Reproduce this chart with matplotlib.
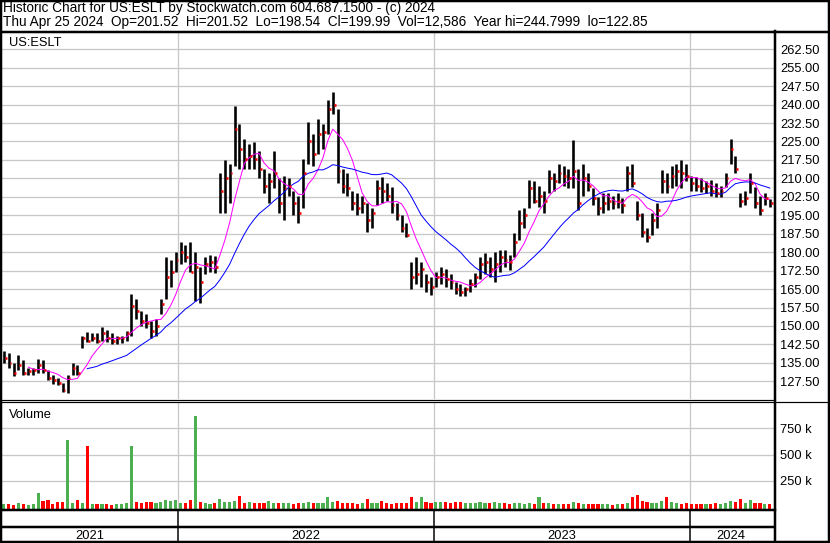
import numpy as np
import pandas as pd
import matplotlib
matplotlib.use("Agg")
import matplotlib.pyplot as plt
from matplotlib.lines import Line2D
from matplotlib.patches import Rectangle

plt.rcParams["font.family"] = ["Liberation Sans", "DejaVu Sans"]

# weekly bars, week of Apr 26 2021 .. week of Apr 22 2024
highs = [140, 139, 135, 138, 136, 133, 133, 136.5, 136, 132,
         130, 129, 127, 130, 135, 134, 146, 147.5, 147, 147,
         149.5, 148.5, 147, 146, 146, 148, 163, 161, 156, 155,
         152, 153, 161, 178, 177, 180, 184, 183, 184, 180,
         174, 178, 179, 178.6, 212, 217.5, 216, 239.4, 232, 226,
         224, 224.7, 221, 214, 212, 221, 210, 211, 210, 205,
         203, 218, 233, 228, 234, 232, 242, 245, 238, 214,
         212, 205, 204, 203, 200, 198, 209.4, 210.6, 208, 206.5,
         200, 195, 192, 176, 178, 176, 171, 170, 172, 174,
         173, 171, 168, 167, 166, 169, 171.5, 178, 179.6, 178,
         180, 181, 181, 179, 187.7, 197, 198, 209.3, 209, 207,
         205, 213.4, 212, 216, 215, 214, 225.6, 214, 216, 212,
         206, 202.5, 204, 204, 203, 204, 202, 215, 216, 201,
         196, 190, 196, 200, 213.3, 212, 215, 216, 217.5, 216,
         211, 210.6, 210, 209, 209.3, 208, 207, 212, 225.9, 219,
         204, 205, 212, 206.5, 203, 204, 201.52]
lows = [135, 133, 129.5, 132, 130, 130, 130, 131, 131, 128,
        126.5, 126, 123, 122.85, 130, 130, 141, 143.5, 144, 143,
        144, 143.5, 142.5, 142.5, 143, 144, 146, 153, 150, 149,
        145, 146, 155, 161, 166, 172, 175, 176, 172, 160,
        159.5, 171, 172, 171.5, 196, 196, 200, 215, 214, 214,
        214, 214, 210, 204, 200, 206, 196, 193, 203, 195,
        192, 198, 216, 215, 220, 222, 228, 236, 208, 204,
        203, 197, 195, 196, 188, 190, 199, 200, 201, 196,
        193, 188, 186, 165, 167, 166, 164, 162.6, 166, 167,
        166, 165, 163, 162, 162, 164, 166, 169, 171, 170,
        168, 172, 174, 172.8, 178, 185, 190, 198, 200, 198.4,
        196, 204, 205, 208, 207, 206, 206, 197, 203, 205,
        199, 195, 196, 197, 197.5, 198, 196, 205, 206.5, 193,
        186, 184.3, 187, 190, 204, 204, 206, 207, 206, 209,
        205, 205, 204.6, 204, 203, 202.5, 202.5, 206.5, 216, 212,
        198.5, 199, 204, 198, 195, 199, 198.54]
closes = [137, 135, 131, 134, 131, 131.5, 132, 134, 132, 129,
          128, 127, 124, 129, 133, 131, 145, 144, 145, 144,
          147, 145, 144, 145, 145, 147, 158, 156, 152, 151,
          148, 150, 159, 170, 172, 177, 180, 178, 172, 174,
          168, 175, 176, 174, 205, 210, 212, 230, 222, 218,
          219, 218, 214, 207, 209, 212, 200, 206, 207, 200,
          196, 212, 225, 220, 228, 229, 238, 240, 213, 207,
          206, 200, 198, 200, 193, 196, 206, 205, 203, 199,
          195, 190, 187, 170, 171, 173, 168, 166, 170, 171,
          169, 168, 165, 164, 165, 167, 170, 175, 176, 173,
          175, 178, 177, 176, 184, 192, 195, 206, 201, 203,
          201, 210, 209, 212, 211, 210, 213, 200, 210, 207,
          202, 198, 200, 201, 200, 201, 199, 212, 208, 195,
          188, 186, 193, 197, 209, 207, 211, 213, 212, 211,
          208, 207, 206, 207, 205, 204, 205, 210, 222, 214,
          201, 202, 208, 200, 197, 202, 199.99]
# volume in thousands of shares
volume_k = [25, 30, 20, 35, 25, 20, 30, 134, 60, 70,
            30, 50, 45, 639, 40, 65, 35, 582, 30, 25,
            30, 25, 20, 25, 30, 35, 582, 50, 35, 45,
            50, 40, 45, 65, 55, 65, 35, 40, 70, 868,
            45, 35, 30, 40, 75, 50, 45, 60, 100, 40,
            45, 35, 40, 40, 55, 40, 35, 40, 35, 30,
            35, 40, 45, 35, 40, 35, 90, 45, 60, 40,
            40, 35, 30, 35, 80, 35, 40, 60, 35, 30,
            35, 40, 35, 90, 50, 90, 45, 40, 45, 50,
            45, 40, 45, 50, 35, 40, 35, 50, 40, 35,
            45, 40, 35, 30, 35, 40, 30, 35, 30, 90,
            40, 35, 30, 25, 30, 25, 45, 40, 30, 25,
            25, 30, 25, 30, 20, 25, 30, 35, 90, 110,
            60, 45, 40, 35, 60, 90, 45, 35, 30, 35,
            30, 25, 30, 25, 30, 35, 30, 35, 60, 45,
            80, 40, 70, 40, 35, 30, 25]

assert len(highs) == len(lows) == len(closes) == len(volume_k)
for h, l, c in zip(highs, lows, closes):
    assert l <= c <= h

weeks = pd.date_range("2021-04-28", periods=len(closes), freq="7D")
close_s = pd.Series(closes, index=weeks)
ma_short = close_s.rolling(6).mean()
ma_long = close_s.rolling(18).mean()

up = np.diff(np.array(closes), prepend=closes[0]) >= 0
vcolors = np.where(up, "#4caf50", "#ff0000")

x0 = pd.Timestamp("2021-04-25 12:00")
x1 = pd.Timestamp("2024-04-30")
years = [pd.Timestamp("2022-01-01"), pd.Timestamp("2023-01-01"), pd.Timestamp("2024-01-01")]

W, H = 830, 543
fig = plt.figure(figsize=(W / 100, H / 100), dpi=100)


def box(l, t, r, b):
    return [l / W, 1 - b / H, (r - l) / W, (b - t) / H]


grid_c = "#c8c8c8"
px = 0.72  # one pixel in points
fs = 9.3

# price panel
ax = fig.add_axes(box(2, 33, 774, 399))
ax.vlines(weeks, lows, highs, color="black", lw=2.6 * px)
ax.hlines(closes, weeks + pd.Timedelta(days=1.3), weeks + pd.Timedelta(days=4),
          color="#ff0000", lw=2.6 * px, zorder=3)
ax.plot(weeks, ma_short, color="#ff00ff", lw=1 * px)
ax.plot(weeks, ma_long, color="#0000ff", lw=1 * px)
ax.set_xlim(x0, x1)
ax.set_ylim(120.3, 269.1)
ticks = np.arange(127.5, 263, 7.5)
ax.set_yticks(ticks)
ax.yaxis.tick_right()
ax.set_yticklabels([f"{v:.2f}" for v in ticks], fontsize=fs)
ax.tick_params(axis="y", length=0, pad=4.5)
ax.set_xticks(years)
ax.tick_params(axis="x", length=0, labelbottom=False)
ax.grid(True, color=grid_c, lw=1.3 * px)
ax.set_axisbelow(True)
for s in ax.spines.values():
    s.set_visible(False)
ax.text(7 / 772, 1 - 13.5 / 366, "US:ESLT", transform=ax.transAxes,
        fontsize=fs, va="baseline")

# volume panel
axv = fig.add_axes(box(2, 402, 774, 509))
vol = np.array(volume_k) * 1000
axv.bar(weeks, vol + 20000, bottom=-20000, width=4.5, color=vcolors, lw=0)
axv.set_xlim(x0, x1)
axv.set_ylim(-20000, 1001000)
axv.set_yticks([250000, 500000, 750000])
axv.yaxis.tick_right()
axv.set_yticklabels(["250 k", "500 k", "750 k"], fontsize=fs)
axv.tick_params(axis="y", length=0, pad=4.5)
axv.set_xticks(years)
axv.tick_params(axis="x", length=0, labelbottom=False)
axv.grid(True, color=grid_c, lw=1.3 * px)
axv.set_axisbelow(True)
for s in axv.spines.values():
    s.set_visible(False)
axv.text(7 / 772, 1 - 16 / 107, "Volume", transform=axv.transAxes,
         fontsize=fs, va="baseline")

# date strip
axd = fig.add_axes(box(2, 510, 774, 542))
axd.set_xlim(x0, x1)
axd.set_ylim(0, 1)
axd.axis("off")
for y in years:
    axd.axvline(y, color="black", lw=1.5 * px)
axd.axhline(15 / 32, color="black", lw=2.5 * px)
edges = [x0] + years + [pd.Timestamp("2024-04-27")]
for i, label in enumerate(["2021", "2022", "2023", "2024"]):
    mid = edges[i] + (edges[i + 1] - edges[i]) / 2
    axd.text(mid, 6 / 32, label, ha="center", va="center", fontsize=fs)

# frame and separators
lines = [
    ((0, 830), (31.5, 31.5), 2.5),
    ((0, 775), (399.5, 399.5), 1.2),
    ((0, 830), (402, 402), 1.2),
    ((0, 775), (509.8, 509.8), 2.5),
    ((775, 775), (31, 543), 2.5),
]
for xs, ys, w in lines:
    fig.add_artist(Line2D([x / W for x in xs], [1 - y / H for y in ys],
                          color="black", lw=w * px))
fig.add_artist(Rectangle((0.6 / W, 0.6 / H), 1 - 1.8 / W, 1 - 1.5 / H,
                         transform=fig.transFigure, fill=False,
                         edgecolor="black", lw=2.5 * px))

fig.text(3 / W, 1 - 12 / H,
         "Historic Chart for US:ESLT by Stockwatch.com 604.687.1500 - (c) 2024",
         fontsize=9.8, va="baseline")
fig.text(3 / W, 1 - 26 / H,
         "Thu Apr 25 2024  Op=201.52  Hi=201.52  Lo=198.54  Cl=199.99  "
         "Vol=12,586  Year hi=244.7999  lo=122.85",
         fontsize=9.8, va="baseline")

fig.savefig("out.png", dpi=100)
